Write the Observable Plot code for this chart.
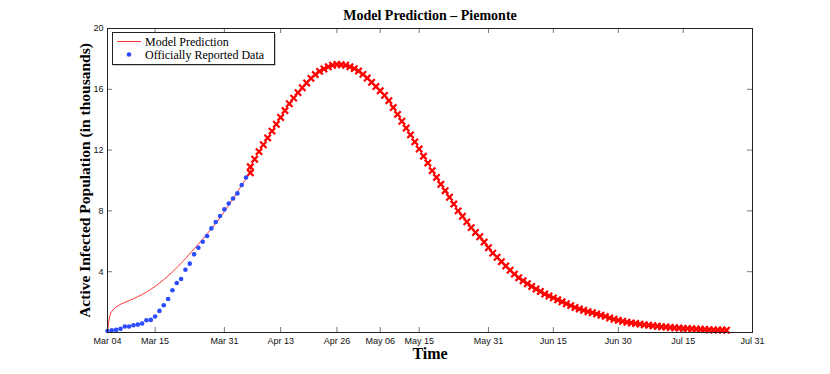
<!DOCTYPE html>
<html><head><meta charset="utf-8">
<script src="https://cdn.jsdelivr.net/npm/d3@7"></script>
<script src="https://cdn.jsdelivr.net/npm/@observablehq/plot@0.6"></script>
<style>html,body{margin:0;padding:0;background:#fff;}</style>
</head><body><div id="chart"></div>
<script>
const titleText = "Model Prediction \u2013 Piemonte";
const xLabelText = "Time";
const yLabelText = "Active Infected Population (in thousands)";
const legendLabels = ["Model Prediction", "Officially Reported Data"];
const startDate = "2020-03-04";
const xTickLabels = ["2020-03-04","2020-03-15","2020-03-31","2020-04-13","2020-04-26","2020-05-06","2020-05-15","2020-05-31","2020-06-15","2020-06-30","2020-07-15","2020-07-31"];
const yTicks = [4, 8, 12, 16, 20];

// Officially reported data (thousands), daily from Mar 04
const reportedValues = [0.1,0.15,0.17,0.24,0.39,0.39,0.48,0.52,0.59,0.81,0.83,1.05,1.42,1.79,2.2,2.78,3.26,3.52,4.13,4.53,5.14,5.58,5.97,6.35,6.85,7.27,7.66,8.1,8.49,8.82,9.15,9.7,10.2];

// Model prediction line (days after Mar 04, thousands)
const modelDays   = [0,0.25,0.5,0.75,1,1.5,2,3,4,5,6,7,8,9,10,11,12,13,14,15,16,17,18,19,20,21,22,23,24,25,26,27,28,29,30,31,32,33];
const modelValues = [0,0.65,1.05,1.28,1.4,1.56,1.68,1.85,1.98,2.1,2.22,2.36,2.5,2.66,2.84,3.03,3.25,3.48,3.73,3.99,4.26,4.55,4.86,5.18,5.5,5.82,6.15,6.5,6.8,7.18,7.56,7.96,8.37,8.8,9.24,9.68,10.12,10.55];

// Model prediction markers (days after Mar 04, thousands)
const predDays = [33,33,34,35,36,37,38,39,40,41,42,43,44,45,46,47,48,49,50,51,52,53,54,55,56,57,58,59,60,61,62,63,64,65,66,67,68,69,70,71,72,73,74,75,76,77,78,79,80,81,82,83,84,85,86,87,88,89,90,91,92,93,94,95,96,97,98,99,100,101,102,103,104,105,106,107,108,109,110,111,112,113,114,115,116,117,118,119,120,121,122,123,124,125,126,127,128,129,130,131,132,133,134,135,136,137,138,139,140,141,142,143];
const predValues = [10.5,10.9,11.4,11.9,12.35,12.8,13.25,13.7,14.15,14.6,15.05,15.42,15.78,16.1,16.42,16.72,16.97,17.18,17.34,17.48,17.58,17.63,17.62,17.58,17.48,17.36,17.2,16.98,16.74,16.46,16.18,15.9,15.6,15.25,14.8,14.35,13.9,13.45,13.0,12.54,12.07,11.6,11.15,10.65,10.2,9.75,9.33,8.9,8.45,8.0,7.65,7.28,6.9,6.58,6.3,5.95,5.58,5.22,4.95,4.66,4.38,4.1,3.84,3.6,3.4,3.21,3.03,2.86,2.7,2.53,2.4,2.28,2.15,2.02,1.89,1.77,1.65,1.55,1.46,1.37,1.3,1.22,1.14,1.06,0.96,0.87,0.8,0.74,0.68,0.63,0.59,0.55,0.51,0.48,0.44,0.41,0.38,0.36,0.33,0.31,0.29,0.27,0.26,0.24,0.23,0.21,0.2,0.18,0.17,0.16,0.16,0.15];

const RED = "#ff0000", BLUE = "#2a4bff";
const W = 830, H = 374, mL = 107, mR = 78, mT = 28, mB = 42;
const innerW = W - mL - mR, innerH = H - mT - mB;
const t0 = new Date(startDate + "T00:00:00Z");
const atDay = d => new Date(t0.getTime() + d * 864e5);

const reported = reportedValues.map((v, i) => ({date: atDay(i), value: v}));
const model = modelDays.map((d, i) => ({date: atDay(d), value: modelValues[i]}));
const pred = predDays.map((d, i) => ({date: atDay(d), value: predValues[i]}));
const xTicks = xTickLabels.map(s => new Date(s + "T00:00:00Z"));

const sans = "'Liberation Sans', Arial, Helvetica, sans-serif";
const serif = "'Liberation Serif', 'Times New Roman', serif";

const plot = Plot.plot({
  width: W, height: H,
  marginLeft: mL, marginRight: mR, marginTop: mT, marginBottom: mB,
  style: {background: "#fff", overflow: "visible"},
  x: {type: "utc", domain: [xTicks[0], xTicks[xTicks.length - 1]]},
  y: {domain: [0, 20]},
  marks: [
    Plot.tickX(xTicks, {x: d => d, insetTop: innerH - 5, stroke: "#777"}),
    Plot.tickX(xTicks, {x: d => d, insetBottom: innerH - 5, stroke: "#777"}),
    Plot.tickY(yTicks, {y: d => d, insetRight: innerW - 5, stroke: "#777"}),
    Plot.tickY(yTicks, {y: d => d, insetLeft: innerW - 5, stroke: "#777"}),
    Plot.axisX(xTicks, {tickSize: 0, tickPadding: 5, tickFormat: d3.utcFormat("%b %d"), fontSize: 9, fontFamily: sans, label: null, fill: "#111"}),
    Plot.axisY(yTicks, {tickSize: 0, tickPadding: 4, fontSize: 9, fontFamily: sans, label: null, fill: "#111"}),
    Plot.line(model, {x: "date", y: "value", stroke: RED, strokeWidth: 0.8}),
    Plot.line(pred, {x: "date", y: "value", stroke: RED, strokeWidth: 0.8}),
    Plot.dot(pred, {x: "date", y: "value", symbol: "times", r: 3, stroke: RED, strokeWidth: 2.2}),
    Plot.dot(reported, {x: "date", y: "value", r: 2.3, fill: BLUE}),
    Plot.frame({stroke: "#222"}),
    Plot.text([titleText], {frameAnchor: "top", lineAnchor: "middle", dy: -13, fontFamily: serif, fontWeight: "bold", fontSize: 14, fill: "#000"}),
    Plot.text([xLabelText], {frameAnchor: "bottom", lineAnchor: "middle", dy: 21, fontFamily: serif, fontWeight: "bold", fontSize: 16, fill: "#000"}),
    Plot.text([yLabelText], {frameAnchor: "left", textAnchor: "middle", lineAnchor: "middle", dx: -22, rotate: -90, fontFamily: serif, fontWeight: "bold", fontSize: 15.5, fill: "#000"})
  ]
});

// legend
const svg = d3.select(plot);
const g = svg.append("g").attr("transform", "translate(112,32)");
g.append("rect").attr("x", 1.5).attr("y", 1.5).attr("width", 162).attr("height", 32).attr("fill", "#999");
g.append("rect").attr("x", 0.5).attr("y", 0.5).attr("width", 162).attr("height", 32).attr("fill", "#fff").attr("stroke", "#222");
g.append("line").attr("x1", 5).attr("x2", 29).attr("y1", 9.5).attr("y2", 9.5).attr("stroke", RED).attr("stroke-width", 0.8);
g.append("circle").attr("cx", 17).attr("cy", 22.5).attr("r", 2.3).attr("fill", BLUE);
legendLabels.forEach((t, i) => {
  g.append("text").attr("x", 33).attr("y", 9.5 + i * 13).attr("dy", "0.35em")
    .attr("text-anchor", "start")
    .attr("font-family", serif).attr("font-size", 12).attr("fill", "#000").text(t);
});

document.getElementById("chart").appendChild(plot);
</script>
</body></html>
